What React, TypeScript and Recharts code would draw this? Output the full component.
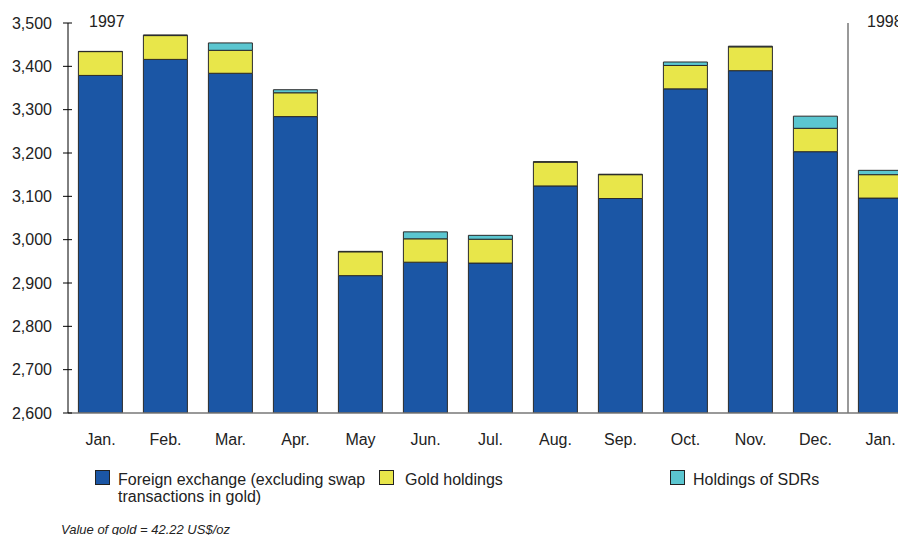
import React from 'react';
import { BarChart, Bar, XAxis, YAxis, ReferenceLine } from 'recharts';

const categories = ['Jan97', 'Feb', 'Mar', 'Apr', 'May', 'Jun', 'Jul', 'Aug', 'Sep', 'Oct', 'Nov', 'Dec', 'Jan98'];
const monthLabels = ['Jan.', 'Feb.', 'Mar.', 'Apr.', 'May', 'Jun.', 'Jul.', 'Aug.', 'Sep.', 'Oct.', 'Nov.', 'Dec.', 'Jan.'];
const foreignExchange = [3379, 3416, 3384, 3284, 2917, 2948, 2946, 3124, 3095, 3348, 3390, 3203, 3096];
const goldHoldings = [55, 55, 53, 55, 55, 54, 55, 55, 55, 54, 55, 54, 54];
const sdrHoldings = [0.5, 1.5, 17, 7, 1, 16, 9, 1, 1, 8, 1.5, 28, 10];
const yTicks = [2600, 2700, 2800, 2900, 3000, 3100, 3200, 3300, 3400, 3500];

const data = categories.map((key, i) => ({
  key,
  label: monthLabels[i],
  fx: foreignExchange[i],
  gold: goldHoldings[i],
  sdr: sdrHoldings[i],
}));

const FONT = '"Liberation Sans", Arial, Helvetica, sans-serif';
const BLUE = '#1B56A5';
const YELLOW = '#E8E64A';
const CYAN = '#5BC6D0';
const STROKE = '#2a2a2a';

const fmt = (v: number) => v.toLocaleString('en-US');

const YTick = (props: any) => {
  const { x, y, payload } = props;
  const axisX = x + 16;
  return (
    <g>
      <line x1={axisX - 5} x2={axisX + 4} y1={y} y2={y} stroke="#000" strokeWidth={1} />
      <text x={x} y={y} dy="0.355em" textAnchor="end" fontSize={16} fill="#222" fontFamily={FONT}>
        {fmt(payload.value)}
      </text>
    </g>
  );
};

const labelByKey: Record<string, string> = {};
data.forEach((d) => (labelByKey[d.key] = d.label));

const Swatch = ({ color }: { color: string }) => (
  <div
    style={{
      width: 13,
      height: 13,
      background: color,
      border: '1px solid #222',
      position: 'absolute',
      left: 0,
      top: 0,
    }}
  />
);

export default function App() {
  return (
    <div
      style={{
        position: 'absolute',
        left: 0,
        top: 0,
        width: 898,
        height: 535,
        overflow: 'hidden',
        background: '#fff',
        fontFamily: FONT,
        color: '#222',
      }}
    >
      <BarChart
        width={913}
        height={450}
        data={data}
        margin={{ top: 23, right: 0, left: 0, bottom: 7 }}
        barCategoryGap="16%"
      >
        <XAxis
          dataKey="key"
          height={30}
          tickFormatter={(k: string) => labelByKey[k]}
          tickLine={false}
          tickSize={6}
          tickMargin={15}
          axisLine={{ stroke: '#777', strokeWidth: 1.5 }}
          tick={{ fontSize: 16, fill: '#222', fontFamily: FONT }}
          interval={0}
        />
        <YAxis
          width={68}
          domain={[2600, 3500]}
          ticks={yTicks}
          allowDataOverflow
          tickLine={false}
          tickSize={5}
          tickMargin={11}
          axisLine={{ stroke: '#000', strokeWidth: 1 }}
          tick={<YTick />}
          interval={0}
        />
        <Bar dataKey="fx" stackId="a" fill={BLUE} stroke={STROKE} strokeWidth={1} isAnimationActive={false} />
        <Bar dataKey="gold" stackId="a" fill={YELLOW} stroke={STROKE} strokeWidth={1} isAnimationActive={false} />
        <Bar dataKey="sdr" stackId="a" fill={CYAN} stroke={STROKE} strokeWidth={1} isAnimationActive={false} />
        <ReferenceLine x="Dec" position="end" stroke="#777" strokeWidth={1.5} />
      </BarChart>

      <div style={{ position: 'absolute', left: 89, top: 13, fontSize: 16, lineHeight: '18px' }}>1997</div>
      <div style={{ position: 'absolute', left: 867, top: 13, fontSize: 16, lineHeight: '18px', whiteSpace: 'nowrap' }}>1998</div>

      <div style={{ position: 'absolute', left: 95, top: 470, width: 280, height: 40 }}>
        <Swatch color={BLUE} />
        <div style={{ position: 'absolute', left: 23, top: 1, fontSize: 16, lineHeight: '17px', whiteSpace: 'nowrap' }}>
          Foreign exchange (excluding swap
          <br />
          transactions in gold)
        </div>
      </div>
      <div style={{ position: 'absolute', left: 379, top: 470, width: 200, height: 20 }}>
        <Swatch color={YELLOW} />
        <div style={{ position: 'absolute', left: 26, top: 1, fontSize: 16, lineHeight: '17px', whiteSpace: 'nowrap' }}>
          Gold holdings
        </div>
      </div>
      <div style={{ position: 'absolute', left: 670, top: 470, width: 200, height: 20 }}>
        <Swatch color={CYAN} />
        <div style={{ position: 'absolute', left: 23, top: 1, fontSize: 16, lineHeight: '17px', whiteSpace: 'nowrap' }}>
          Holdings of SDRs
        </div>
      </div>

      <div
        style={{
          position: 'absolute',
          left: 61,
          top: 522,
          fontSize: 13,
          lineHeight: '15px',
          fontStyle: 'italic',
          whiteSpace: 'nowrap',
        }}
      >
        Value of gold = 42.22 US$/oz
      </div>
    </div>
  );
}
